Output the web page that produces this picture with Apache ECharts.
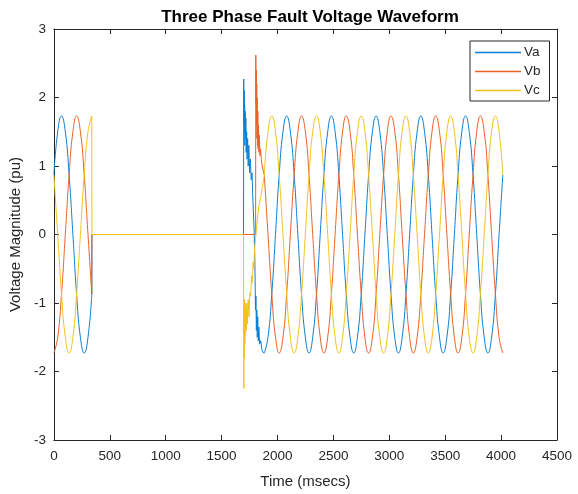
<!DOCTYPE html>
<html>
<head>
<meta charset="utf-8">
<script src="https://cdn.jsdelivr.net/npm/echarts@6/dist/echarts.min.js"></script>
<style>
  html, body { margin: 0; padding: 0; background: #fff; }
  #chart { width: 578px; height: 494px; }
</style>
</head>
<body>
<div id="chart"></div>
<script>
// 故障前（0 ~ 339 ms）
const preTime = [0, 34, 68, 102, 136, 170, 203, 237, 271, 305, 339]
const preVa = [0.87, 1.5, 1.73, 1.5, 0.87, 0, -0.87, -1.5, -1.73, -1.5, -0.87]
const preVb = [-1.73, -1.5, -0.87, 0, 0.87, 1.5, 1.73, 1.5, 0.87, 0, -0.87]
const preVc = [0.87, 0, -0.87, -1.5, -1.73, -1.5, -0.87, 0, 0.87, 1.5, 1.73]

// 故障期间 + 恢复暂态
const faultTimeA = [339, 340, 1696, 1698, 1700, 1702, 1704, 1706, 1708, 1711, 1714, 1717, 1720, 1724, 1728, 1733, 1738, 1744, 1750, 1757, 1765, 1772, 1780, 1790, 1798, 1803, 1807, 1811, 1815, 1819, 1823, 1828, 1833, 1840, 1850, 1860, 1870, 1882]
const faultVa = [-0.87, 0, 0, 2.27, 1.6, 2.1, 1.5, 1.9, 1.3, 1.8, 1.4, 1.7, 1.2, 1.5, 1.1, 1.4, 1.0, 1.3, 0.9, 1.1, 0.8, 0.9, 0.5, 0.1, -0.4, -1.1, -0.9, -1.4, -1.1, -1.5, -1.2, -1.55, -1.35, -1.6, -1.55, -1.68, -1.72, -1.73]
const faultTimeB = [339, 340, 1804, 1806, 1808, 1810, 1812, 1814, 1816, 1818, 1821, 1824, 1827, 1830, 1834, 1838, 1843, 1848, 1855, 1862, 1870, 1882]
const faultVb = [-0.87, 0, 0, 2.62, 1.9, 2.4, 1.6, 2.2, 1.4, 2.0, 1.3, 1.8, 1.25, 1.6, 1.2, 1.45, 1.15, 1.25, 1.1, 1.0, 0.95, 0.87]
const faultTimeC = [339, 340, 1696, 1699, 1701, 1703, 1705, 1708, 1711, 1714, 1718, 1722, 1727, 1732, 1738, 1745, 1752, 1760, 1768, 1775, 1782, 1788, 1795, 1802, 1815, 1832, 1850, 1866, 1882]
const faultVc = [1.73, 0, 0, -2.25, -1.0, -1.8, -0.95, -1.6, -1.0, -1.45, -1.05, -1.4, -1.0, -1.3, -0.95, -1.2, -0.85, -0.9, -0.6, -0.7, -0.4, -0.5, -0.2, -0.1, 0.15, 0.4, 0.55, 0.7, 0.87]

// 故障后稳态（1882 ~ 4015 ms）
const postTime = [
  1882, 1915, 1949, 1982, 2015, 2049, 2082, 2115, 2149, 2182, 2215, 2249,
  2282, 2315, 2349, 2382, 2415, 2449, 2482, 2515, 2549, 2582, 2615, 2649,
  2682, 2715, 2749, 2782, 2815, 2849, 2882, 2915, 2949, 2982, 3015, 3049,
  3082, 3115, 3149, 3182, 3215, 3249, 3282, 3315, 3349, 3382, 3415, 3449,
  3482, 3515, 3549, 3582, 3615, 3649, 3682, 3715, 3749, 3782, 3815, 3849,
  3882, 3915, 3949, 3982, 4015
]
const postVa = [
  -1.73, -1.5, -0.87, 0, 0.87, 1.5, 1.73, 1.5, 0.87, 0, -0.87, -1.5,
  -1.73, -1.5, -0.87, 0, 0.87, 1.5, 1.73, 1.5, 0.87, 0, -0.87, -1.5,
  -1.73, -1.5, -0.87, 0, 0.87, 1.5, 1.73, 1.5, 0.87, 0, -0.87, -1.5,
  -1.73, -1.5, -0.87, 0, 0.87, 1.5, 1.73, 1.5, 0.87, 0, -0.87, -1.5,
  -1.73, -1.5, -0.87, 0, 0.87, 1.5, 1.73, 1.5, 0.87, 0, -0.87, -1.5,
  -1.73, -1.5, -0.87, 0, 0.87
]
const postVb = [
  0.87, 0, -0.87, -1.5, -1.73, -1.5, -0.87, 0, 0.87, 1.5, 1.73, 1.5,
  0.87, 0, -0.87, -1.5, -1.73, -1.5, -0.87, 0, 0.87, 1.5, 1.73, 1.5,
  0.87, 0, -0.87, -1.5, -1.73, -1.5, -0.87, 0, 0.87, 1.5, 1.73, 1.5,
  0.87, 0, -0.87, -1.5, -1.73, -1.5, -0.87, 0, 0.87, 1.5, 1.73, 1.5,
  0.87, 0, -0.87, -1.5, -1.73, -1.5, -0.87, 0, 0.87, 1.5, 1.73, 1.5,
  0.87, 0, -0.87, -1.5, -1.73
]
const postVc = [
  0.87, 1.5, 1.73, 1.5, 0.87, 0, -0.87, -1.5, -1.73, -1.5, -0.87, 0,
  0.87, 1.5, 1.73, 1.5, 0.87, 0, -0.87, -1.5, -1.73, -1.5, -0.87, 0,
  0.87, 1.5, 1.73, 1.5, 0.87, 0, -0.87, -1.5, -1.73, -1.5, -0.87, 0,
  0.87, 1.5, 1.73, 1.5, 0.87, 0, -0.87, -1.5, -1.73, -1.5, -0.87, 0,
  0.87, 1.5, 1.73, 1.5, 0.87, 0, -0.87, -1.5, -1.73, -1.5, -0.87, 0,
  0.87, 1.5, 1.73, 1.5, 0.87
]

const PHASES = ["Va", "Vb", "Vc"]
const COLORS = { Va: "#0b80d4", Vb: "#ec6226", Vc: "#f5c21b" }
const AXIS_COLOR = "#262626"
const FONT = "Liberation Sans, Arial, sans-serif"

const zip = (xs, ys) => xs.map((x, i) => [x, ys[i]])

const segments = {
  Va: [[preTime, preVa, true], [faultTimeA, faultVa, false], [postTime, postVa, true]],
  Vb: [[preTime, preVb, true], [faultTimeB, faultVb, false], [postTime, postVb, true]],
  Vc: [[preTime, preVc, true], [faultTimeC, faultVc, false], [postTime, postVc, true]]
}

const series = []
PHASES.forEach((name) => {
  segments[name].forEach(([t, v, smooth]) => {
    series.push({
      name: name,
      type: "line",
      data: zip(t, v),
      smooth: smooth,
      showSymbol: false,
      symbol: "none",
      color: COLORS[name],
      lineStyle: { width: 1, color: COLORS[name] },
      xAxisIndex: 0,
      yAxisIndex: 0
    })
  })
})

const xTick = {
  type: "value", min: 0, max: 4500, interval: 500,
  axisLine: { show: true, onZero: false, lineStyle: { color: AXIS_COLOR, width: 1 } },
  axisTick: { show: true, inside: true, length: 5, lineStyle: { color: AXIS_COLOR } },
  splitLine: { show: false }
}
const yTick = {
  type: "value", min: -3, max: 3, interval: 1,
  axisLine: { show: true, onZero: false, lineStyle: { color: AXIS_COLOR, width: 1 } },
  axisTick: { show: true, inside: true, length: 5, lineStyle: { color: AXIS_COLOR } },
  splitLine: { show: false }
}

const chart = echarts.init(document.getElementById("chart"))
chart.setOption({
  animation: false,
  backgroundColor: "#fff",
  title: {
    text: "Three Phase Fault Voltage Waveform",
    left: 305, textAlign: "center", top: 4,
    textStyle: { fontFamily: FONT, fontSize: 17, fontWeight: "bold", color: "#000" }
  },
  legend: {
    data: PHASES,
    orient: "vertical",
    left: 470, top: 41,
    padding: [4, 9, 3, 5],
    itemGap: 4,
    itemWidth: 46, itemHeight: 1.5,
    icon: "rect",
    borderColor: AXIS_COLOR, borderWidth: 1,
    backgroundColor: "#fff",
    textStyle: { fontFamily: FONT, fontSize: 13.5, color: AXIS_COLOR, lineHeight: 15, padding: [0, 0, 0, -2] }
  },
  grid: { left: 53, right: 21, top: 29, bottom: 54 },
  xAxis: [
    Object.assign({}, xTick, {
      position: "bottom",
      name: "Time (msecs)", nameLocation: "middle", nameGap: 34,
      nameTextStyle: { fontFamily: FONT, fontSize: 15, color: AXIS_COLOR },
      axisLabel: { fontFamily: FONT, fontSize: 13.5, color: AXIS_COLOR, margin: 9, formatter: (v) => String(v) }
    }),
    Object.assign({}, xTick, { position: "top", axisLabel: { show: false } })
  ],
  yAxis: [
    Object.assign({}, yTick, {
      position: "left",
      name: "Voltage Magnitude (pu)", nameLocation: "middle", nameGap: 26,
      nameTextStyle: { fontFamily: FONT, fontSize: 15, color: AXIS_COLOR },
      axisLabel: { fontFamily: FONT, fontSize: 13.5, color: AXIS_COLOR, margin: 8, formatter: (v) => String(v) }
    }),
    Object.assign({}, yTick, { position: "right", axisLabel: { show: false } })
  ],
  series: series
})
</script>
</body>
</html>
